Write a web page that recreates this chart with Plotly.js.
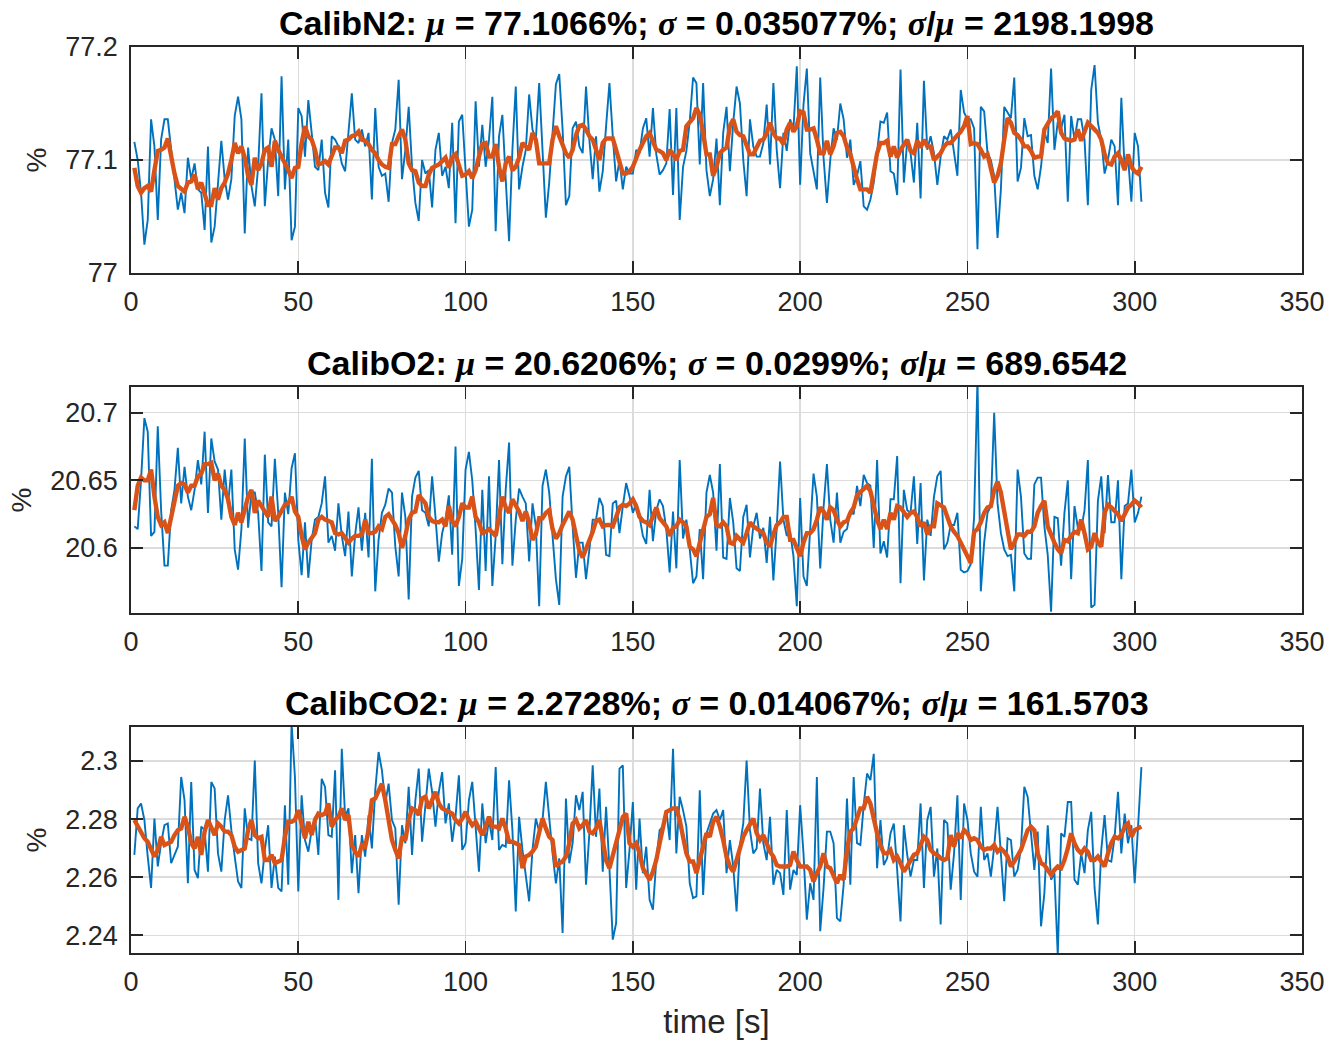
<!DOCTYPE html>
<html>
<head>
<meta charset="utf-8">
<script src="https://cdn.plot.ly/plotly-3.0.1.min.js"></script>
<style>
  html, body { margin: 0; padding: 0; background: #ffffff; }
  #chart { width: 1332px; height: 1041px; }
</style>
</head>
<body>
<div id="chart"></div>
<script>
// Gas calibration run: raw concentration readings (1 Hz) and their moving mean.
const gasNames = ['CalibN2', 'CalibO2', 'CalibCO2'];
const gasMean = ['77.1066', '20.6206', '2.2728'];
const gasStd = ['0.035077', '0.0299', '0.014067'];
const gasRatio = ['2198.1998', '689.6542', '161.5703'];

const n2Raw = [77.116,77.100,77.071,77.025,77.047,77.136,77.112,77.047,77.118,77.136,77.136,77.109,77.088,77.056,77.071,77.053,77.102,77.083,77.097,77.074,77.071,77.038,77.112,77.027,77.041,77.077,77.117,77.083,77.065,77.083,77.139,77.156,77.136,77.035,77.111,77.077,77.059,77.094,77.159,77.059,77.100,77.128,77.118,77.068,77.174,77.074,77.118,77.029,77.041,77.146,77.139,77.103,77.153,77.124,77.094,77.091,77.118,77.071,77.058,77.121,77.118,77.112,77.097,77.090,77.127,77.159,77.118,77.115,77.127,77.112,77.124,77.065,77.146,77.094,77.086,77.088,77.063,77.115,
  77.127,77.171,77.083,77.109,77.147,77.094,77.062,77.046,77.100,77.088,77.091,77.058,77.109,77.124,77.086,77.094,77.075,77.133,77.044,77.134,77.140,77.088,77.041,77.056,77.152,77.094,77.131,77.094,77.118,77.156,77.037,77.121,77.140,77.083,77.028,77.109,77.165,77.074,77.094,77.109,77.158,77.127,77.118,77.168,77.102,77.049,77.080,77.121,77.167,77.176,77.127,77.060,77.068,77.128,77.134,77.112,77.106,77.165,77.118,77.083,77.121,77.072,77.090,77.130,77.168,77.121,77.081,77.100,77.074,77.094,77.088,77.088,77.109,77.106,77.128,77.137,77.103,
  77.146,77.105,77.087,77.091,77.097,77.145,77.069,77.146,77.047,77.094,77.108,77.134,77.173,77.168,77.096,77.168,77.091,77.068,77.083,77.119,77.060,77.124,77.147,77.090,77.133,77.165,77.150,77.100,77.068,77.136,77.112,77.103,77.103,77.115,77.149,77.096,77.168,77.109,77.075,77.124,77.108,77.136,77.127,77.183,77.078,77.149,77.181,77.106,77.090,77.074,77.173,77.102,77.062,77.100,77.128,77.118,77.150,77.136,77.102,77.118,77.078,77.086,77.099,77.059,77.056,77.065,77.080,77.106,77.134,77.133,77.142,77.090,77.088,77.069,77.180,77.080,77.117,77.106,
  77.080,77.133,77.066,77.170,77.109,77.121,77.106,77.078,77.103,77.121,77.118,77.127,77.106,77.086,77.162,77.142,77.136,77.136,77.128,77.021,77.147,77.143,77.106,77.100,77.086,77.031,77.074,77.147,77.142,77.137,77.173,77.081,77.093,77.137,77.121,77.122,77.086,77.074,77.094,77.125,77.115,77.181,77.109,77.134,77.128,77.140,77.063,77.139,77.118,77.136,77.136,77.118,77.060,77.162,77.184,77.133,77.118,77.088,77.100,77.118,77.112,77.060,77.155,77.091,77.103,77.063,77.124,77.112,77.063];

const n2Smooth = [77.093,77.077,77.071,77.075,77.077,77.072,77.091,77.108,77.109,77.111,77.119,77.103,77.088,77.077,77.075,77.072,77.080,77.081,77.087,77.074,77.080,77.068,77.060,77.060,77.075,77.065,77.075,77.080,77.088,77.100,77.115,77.106,77.112,77.102,77.086,77.078,77.102,77.091,77.097,77.109,77.111,77.094,77.117,77.109,77.102,77.097,77.091,77.084,77.093,77.094,77.115,77.130,77.121,77.118,77.109,77.096,77.097,77.099,77.096,77.105,77.111,77.111,77.106,77.117,77.118,77.121,77.122,77.125,77.118,77.117,77.114,77.109,77.106,77.100,77.096,77.094,77.093,77.114,
  77.114,77.121,77.127,77.118,77.097,77.091,77.090,77.080,77.077,77.077,77.087,77.093,77.094,77.096,77.099,77.102,77.093,77.102,77.105,77.094,77.086,77.087,77.090,77.084,77.091,77.103,77.114,77.115,77.103,77.103,77.114,77.094,77.081,77.097,77.103,77.091,77.094,77.102,77.115,77.112,77.109,77.124,77.118,77.097,77.097,77.097,77.097,77.118,77.130,77.121,77.114,77.106,77.102,77.109,77.122,77.130,77.131,77.127,77.121,77.118,77.109,77.100,77.115,77.119,77.119,77.119,77.109,77.097,77.088,77.088,77.090,77.094,77.103,77.109,77.115,77.121,77.124,
  77.117,77.109,77.108,77.106,77.100,77.109,77.105,77.100,77.108,77.109,77.130,77.134,77.137,77.146,77.140,77.124,77.105,77.105,77.086,77.094,77.106,77.109,77.111,77.130,77.136,77.125,77.122,77.121,77.112,77.105,77.105,77.112,77.117,77.118,77.124,77.133,77.124,77.119,77.119,77.114,77.127,77.133,77.125,77.130,77.143,77.142,77.127,77.127,77.128,77.118,77.106,77.106,77.117,77.105,77.112,77.124,77.125,77.121,77.111,77.105,77.093,77.083,77.074,77.074,77.074,77.071,77.088,77.106,77.115,77.115,77.117,77.103,77.112,77.102,77.109,77.114,77.118,77.108,
  77.106,77.117,77.111,77.118,77.112,77.112,77.100,77.103,77.106,77.112,77.115,77.115,77.119,77.122,77.125,77.130,77.139,77.114,77.115,77.114,77.109,77.103,77.105,77.091,77.080,77.086,77.097,77.118,77.137,77.133,77.124,77.122,77.118,77.112,77.112,77.108,77.102,77.103,77.103,77.127,77.133,77.137,77.139,77.143,77.124,77.119,77.118,77.117,77.118,77.127,77.117,77.124,77.133,77.130,77.127,77.124,77.118,77.105,77.097,77.096,77.103,77.106,77.100,77.091,77.105,77.094,77.090,77.088,77.094];

const o2Raw = [20.616,20.614,20.650,20.696,20.686,20.609,20.612,20.690,20.628,20.587,20.587,20.628,20.643,20.674,20.633,20.660,20.638,20.628,20.643,20.665,20.647,20.686,20.626,20.681,20.664,20.658,20.621,20.658,20.632,20.658,20.599,20.584,20.614,20.681,20.615,20.641,20.641,20.626,20.583,20.669,20.619,20.616,20.666,20.626,20.571,20.641,20.625,20.659,20.670,20.606,20.580,20.619,20.578,20.606,20.621,20.623,20.633,20.653,20.604,20.609,20.598,20.633,20.609,20.594,20.627,20.579,20.610,20.630,20.598,20.626,20.593,20.666,20.568,20.606,20.626,20.632,20.644,20.641,
  20.601,20.579,20.641,20.623,20.562,20.638,20.652,20.657,20.628,20.626,20.616,20.653,20.623,20.590,20.611,20.621,20.639,20.595,20.675,20.572,20.592,20.658,20.671,20.650,20.614,20.569,20.643,20.583,20.653,20.572,20.609,20.665,20.588,20.643,20.678,20.587,20.621,20.644,20.638,20.633,20.590,20.633,20.616,20.557,20.646,20.658,20.641,20.606,20.577,20.558,20.638,20.653,20.660,20.616,20.578,20.604,20.604,20.577,20.601,20.621,20.621,20.637,20.631,20.595,20.594,20.633,20.635,20.611,20.631,20.648,20.638,20.626,20.633,20.623,20.609,20.603,20.643,
  20.605,20.628,20.636,20.631,20.614,20.582,20.627,20.585,20.665,20.607,20.621,20.599,20.574,20.579,20.614,20.577,20.641,20.654,20.641,20.598,20.662,20.593,20.592,20.637,20.619,20.585,20.583,20.623,20.632,20.593,20.616,20.626,20.607,20.615,20.589,20.623,20.576,20.615,20.664,20.621,20.609,20.612,20.594,20.557,20.637,20.579,20.572,20.614,20.655,20.638,20.585,20.630,20.662,20.621,20.604,20.641,20.604,20.612,20.614,20.627,20.625,20.646,20.631,20.654,20.648,20.646,20.600,20.665,20.596,20.605,20.593,20.636,20.636,20.668,20.574,20.643,20.628,20.626,
  20.653,20.603,20.648,20.576,20.621,20.609,20.638,20.653,20.657,20.599,20.604,20.617,20.617,20.626,20.584,20.582,20.583,20.588,20.623,20.725,20.568,20.604,20.626,20.631,20.700,20.633,20.611,20.599,20.594,20.595,20.568,20.658,20.638,20.596,20.592,20.592,20.647,20.652,20.652,20.616,20.595,20.553,20.623,20.622,20.587,20.626,20.650,20.577,20.631,20.615,20.614,20.628,20.665,20.556,20.558,20.635,20.653,20.611,20.654,20.619,20.619,20.650,20.577,20.631,20.633,20.658,20.619,20.626,20.638];

const o2Smooth = [20.628,20.646,20.652,20.650,20.650,20.658,20.638,20.623,20.617,20.619,20.611,20.623,20.633,20.646,20.648,20.647,20.641,20.646,20.646,20.653,20.655,20.662,20.662,20.663,20.650,20.655,20.646,20.643,20.636,20.623,20.617,20.626,20.619,20.628,20.638,20.643,20.626,20.635,20.631,20.626,20.623,20.638,20.620,20.623,20.627,20.632,20.633,20.638,20.627,20.623,20.609,20.599,20.604,20.607,20.611,20.621,20.623,20.621,20.620,20.619,20.611,20.610,20.611,20.607,20.604,20.607,20.609,20.609,20.610,20.621,20.611,20.611,20.612,20.616,20.614,20.623,20.625,20.621,
  20.617,20.611,20.600,20.609,20.621,20.626,20.627,20.639,20.636,20.633,20.623,20.620,20.619,20.619,20.621,20.616,20.631,20.620,20.616,20.623,20.633,20.630,20.630,20.638,20.623,20.619,20.611,20.612,20.614,20.612,20.609,20.623,20.638,20.630,20.626,20.636,20.632,20.627,20.620,20.627,20.619,20.606,20.610,20.622,20.622,20.626,20.628,20.614,20.607,20.611,20.617,20.623,20.627,20.621,20.611,20.598,20.593,20.599,20.604,20.612,20.620,20.621,20.616,20.617,20.617,20.616,20.623,20.630,20.632,20.631,20.633,20.636,20.631,20.623,20.620,20.619,20.617,
  20.623,20.630,20.622,20.619,20.616,20.609,20.615,20.616,20.621,20.619,20.616,20.601,20.599,20.594,20.604,20.616,20.623,20.625,20.637,20.617,20.616,20.619,20.616,20.604,20.603,20.609,20.606,20.604,20.611,20.619,20.616,20.614,20.612,20.611,20.604,20.601,20.610,20.617,20.619,20.623,20.623,20.606,20.606,20.600,20.594,20.604,20.611,20.611,20.614,20.621,20.630,20.627,20.621,20.630,20.628,20.621,20.616,20.619,20.620,20.626,20.630,20.639,20.641,20.644,20.646,20.642,20.630,20.621,20.614,20.621,20.614,20.626,20.621,20.631,20.630,20.626,20.623,20.626,
  20.627,20.623,20.616,20.619,20.610,20.616,20.616,20.633,20.631,20.630,20.623,20.616,20.612,20.609,20.604,20.599,20.594,20.589,20.612,20.614,20.619,20.626,20.630,20.631,20.643,20.649,20.641,20.626,20.609,20.599,20.604,20.610,20.610,20.609,20.612,20.612,20.616,20.626,20.631,20.635,20.616,20.609,20.604,20.599,20.596,20.606,20.605,20.609,20.612,20.611,20.621,20.611,20.599,20.601,20.611,20.604,20.601,20.626,20.632,20.630,20.628,20.625,20.620,20.625,20.630,20.632,20.635,20.633,20.630];

const co2Raw = [2.2677,2.2837,2.2854,2.2797,2.2671,2.2563,2.2802,2.2637,2.2717,2.2779,2.2785,2.2648,2.2677,2.2705,2.2945,2.2865,2.2579,2.2928,2.2625,2.2597,2.2774,2.2762,2.2619,2.2928,2.2905,2.2682,2.2619,2.2797,2.2882,2.2762,2.2671,2.2585,2.2563,2.2837,2.2734,2.2728,2.3002,2.2648,2.2579,2.2694,2.2779,2.2563,2.2671,2.2563,2.2551,2.2848,2.2574,2.3130,2.2945,2.2551,2.2882,2.2728,2.2688,2.2762,2.2808,2.2677,2.2939,2.2911,2.2745,2.2739,2.2968,2.2522,2.3042,2.2808,2.2837,2.2614,2.2745,2.2545,2.2745,2.2671,2.2814,2.2699,2.2899,2.3031,2.2968,2.2854,2.2922,2.2797,
  2.2768,2.2505,2.2779,2.2717,2.2911,2.2677,2.2865,2.2974,2.2722,2.2854,2.2974,2.2894,2.2774,2.2894,2.2962,2.2785,2.2854,2.2722,2.2808,2.2951,2.2694,2.2717,2.2865,2.2928,2.2785,2.2619,2.2854,2.2717,2.2797,2.2728,2.2979,2.2694,2.2711,2.2705,2.2934,2.2762,2.2482,2.2808,2.2694,2.2602,2.2517,2.2694,2.2802,2.2757,2.2797,2.2928,2.2797,2.2682,2.2579,2.2665,2.2408,2.2871,2.2648,2.2717,2.2882,2.2831,2.2894,2.2574,2.2751,2.2985,2.2739,2.2905,2.2619,2.2842,2.2631,2.2385,2.2442,2.2974,2.2985,2.2563,2.2694,2.2859,2.2557,2.2802,2.2614,2.2705,2.2522,
  2.2488,2.2659,2.2762,2.2774,2.2831,2.2728,2.3042,2.2682,2.2877,2.2831,2.2774,2.2579,2.2528,2.2534,2.2899,2.2539,2.2751,2.2785,2.2819,2.2831,2.2797,2.2831,2.2614,2.2728,2.2637,2.2482,2.2711,2.2785,2.3002,2.2762,2.2682,2.2699,2.2905,2.2717,2.2659,2.2808,2.2574,2.2625,2.2614,2.2539,2.2831,2.2557,2.2625,2.2608,2.2848,2.2682,2.2454,2.2579,2.2522,2.2945,2.2414,2.2563,2.2757,2.2757,2.2717,2.2459,2.2448,2.2574,2.2871,2.2574,2.2945,2.2717,2.2711,2.2848,2.2957,2.2934,2.3025,2.2631,2.2797,2.2642,2.2665,2.2751,2.2785,2.2625,2.2448,2.2779,2.2677,2.2602,
  2.2659,2.2659,2.2854,2.2563,2.2797,2.2842,2.2602,2.2699,2.2437,2.2797,2.2785,2.2557,2.2682,2.2882,2.2522,2.2854,2.2797,2.2682,2.2619,2.2602,2.2842,2.2659,2.2682,2.2602,2.2705,2.2842,2.2682,2.2517,2.2734,2.2728,2.2602,2.2625,2.2699,2.2911,2.2877,2.2762,2.2625,2.2757,2.2431,2.2545,2.2779,2.2591,2.2614,2.2330,2.2751,2.2739,2.2859,2.2859,2.2591,2.2574,2.2682,2.2614,2.2762,2.2825,2.2563,2.2437,2.2694,2.2814,2.2659,2.2654,2.2739,2.2894,2.2682,2.2819,2.2717,2.2779,2.2579,2.2774,2.2979];

const co2Smooth = [2.2797,2.2774,2.2751,2.2734,2.2722,2.2694,2.2671,2.2694,2.2739,2.2711,2.2717,2.2722,2.2745,2.2762,2.2768,2.2808,2.2774,2.2717,2.2699,2.2739,2.2677,2.2757,2.2797,2.2774,2.2745,2.2785,2.2774,2.2757,2.2757,2.2745,2.2705,2.2688,2.2694,2.2699,2.2762,2.2797,2.2745,2.2734,2.2739,2.2659,2.2659,2.2677,2.2648,2.2654,2.2659,2.2739,2.2791,2.2791,2.2797,2.2831,2.2774,2.2734,2.2791,2.2745,2.2797,2.2819,2.2814,2.2819,2.2854,2.2774,2.2797,2.2808,2.2837,2.2797,2.2814,2.2711,2.2688,2.2671,2.2711,2.2705,2.2762,2.2865,2.2871,2.2894,2.2922,2.2865,2.2797,2.2728,
  2.2694,2.2665,2.2739,2.2728,2.2797,2.2837,2.2831,2.2814,2.2871,2.2877,2.2837,2.2865,2.2894,2.2854,2.2837,2.2831,2.2825,2.2819,2.2797,2.2785,2.2802,2.2825,2.2797,2.2779,2.2791,2.2768,2.2745,2.2774,2.2808,2.2774,2.2774,2.2768,2.2802,2.2768,2.2722,2.2722,2.2717,2.2711,2.2631,2.2671,2.2677,2.2688,2.2705,2.2762,2.2802,2.2768,2.2739,2.2728,2.2637,2.2648,2.2654,2.2671,2.2717,2.2785,2.2797,2.2768,2.2779,2.2797,2.2757,2.2751,2.2768,2.2797,2.2728,2.2659,2.2631,2.2671,2.2717,2.2762,2.2808,2.2819,2.2717,2.2705,2.2717,2.2682,2.2631,2.2608,2.2591,
  2.2619,2.2659,2.2717,2.2774,2.2825,2.2831,2.2837,2.2837,2.2797,2.2739,2.2682,2.2654,2.2654,2.2614,2.2659,2.2705,2.2751,2.2739,2.2791,2.2808,2.2774,2.2728,2.2671,2.2637,2.2619,2.2659,2.2699,2.2739,2.2762,2.2785,2.2802,2.2751,2.2728,2.2745,2.2711,2.2688,2.2671,2.2642,2.2637,2.2637,2.2637,2.2642,2.2688,2.2659,2.2637,2.2637,2.2637,2.2625,2.2585,2.2614,2.2637,2.2682,2.2637,2.2631,2.2602,2.2579,2.2608,2.2591,2.2694,2.2757,2.2768,2.2808,2.2837,2.2837,2.2877,2.2854,2.2797,2.2751,2.2711,2.2682,2.2682,2.2694,2.2659,2.2671,2.2648,2.2619,2.2637,2.2659,
  2.2677,2.2682,2.2711,2.2739,2.2728,2.2694,2.2682,2.2677,2.2665,2.2659,2.2665,2.2745,2.2705,2.2751,2.2734,2.2762,2.2751,2.2728,2.2734,2.2728,2.2705,2.2694,2.2699,2.2699,2.2711,2.2688,2.2699,2.2688,2.2671,2.2637,2.2654,2.2671,2.2694,2.2728,2.2762,2.2774,2.2762,2.2682,2.2648,2.2642,2.2625,2.2608,2.2625,2.2637,2.2631,2.2659,2.2699,2.2751,2.2717,2.2694,2.2682,2.2699,2.2688,2.2659,2.2659,2.2671,2.2654,2.2637,2.2682,2.2717,2.2739,2.2734,2.2745,2.2774,2.2785,2.2739,2.2762,2.2768,2.2774];

const xTicks = [0, 50, 100, 150, 200, 250, 300, 350];
const yTicks = [[77, 77.1, 77.2], [20.6, 20.65, 20.7], [2.24, 2.26, 2.28, 2.3]];
const yRanges = [[77, 77.2], [20.552, 20.719], [2.2339, 2.3117]];

// Samples are logged once per second starting at t = 1 s.
const time = n2Raw.map((_, i) => i + 1);

const BLUE = '#0072BD';
const ORANGE = '#D95319';
const INK = '#262626';
const FONT = 'Liberation Sans, Arial, Helvetica, sans-serif';

const rawSeries = [n2Raw, o2Raw, co2Raw];
const smoothSeries = [n2Smooth, o2Smooth, co2Smooth];

const traces = [];
rawSeries.forEach((vals, k) => {
  const sfx = k === 0 ? '' : String(k + 1);
  traces.push({
    x: time, y: vals, type: 'scatter', mode: 'lines',
    line: { color: BLUE, width: 1.9 },
    xaxis: 'x' + sfx, yaxis: 'y' + sfx, hoverinfo: 'skip'
  });
  traces.push({
    x: time, y: smoothSeries[k], type: 'scatter', mode: 'lines',
    line: { color: ORANGE, width: 4.4 },
    xaxis: 'x' + sfx, yaxis: 'y' + sfx, hoverinfo: 'skip'
  });
});

// Panel vertical extents (paper fractions), top to bottom.
const domains = [[0.7506, 1.0], [0.3753, 0.6247], [0.0, 0.2494]];

function baseAxis() {
  return {
    showline: true, linecolor: INK, linewidth: 1.8, mirror: 'ticks',
    ticks: 'inside', ticklen: 12, tickwidth: 1.8, tickcolor: INK,
    showgrid: true, gridcolor: '#dcdcdc', gridwidth: 1.4, zeroline: false,
    tickfont: { family: FONT, size: 27, color: INK },
    fixedrange: true
  };
}

const layout = {
  width: 1332, height: 1041,
  margin: { l: 131, r: 30, t: 47, b: 88 },
  paper_bgcolor: '#ffffff', plot_bgcolor: '#ffffff',
  showlegend: false,
  font: { family: FONT, color: INK },
  annotations: []
};

domains.forEach((dom, k) => {
  const sfx = k === 0 ? '' : String(k + 1);
  const xa = Object.assign(baseAxis(), {
    domain: [0, 1], range: [0, 350], tickvals: xTicks,
    anchor: 'y' + sfx, ticklabelstandoff: 4
  });
  if (k === 2) {
    xa.title = { text: 'time [s]', font: { family: FONT, size: 33, color: INK }, standoff: 14 };
  }
  const ya = Object.assign(baseAxis(), {
    domain: dom, range: yRanges[k], tickvals: yTicks[k],
    ticktext: yTicks[k].map(String),
    anchor: 'x' + sfx, ticklabelstandoff: 6,
    title: { text: '%', font: { family: FONT, size: 28, color: INK }, standoff: 10 }
  });
  layout['xaxis' + sfx] = xa;
  layout['yaxis' + sfx] = ya;

  const g = '<span style="font-family:Liberation Serif, Times New Roman, serif"><i>';
  const ge = '</i></span>';
  layout.annotations.push({
    xref: 'paper', yref: 'paper', x: 0.5, y: dom[1],
    xanchor: 'center', yanchor: 'bottom', yshift: 3, showarrow: false,
    text: '<b>' + gasNames[k] + ': ' + g + 'μ' + ge + ' = ' + gasMean[k] + '%; ' +
          g + 'σ' + ge + ' = ' + gasStd[k] + '%; ' +
          g + 'σ' + ge + '/' + g + 'μ' + ge + ' = ' + gasRatio[k] + '</b>',
    font: { family: FONT, size: 34, color: '#000000' }
  });
});

Plotly.newPlot('chart', traces, layout, { staticPlot: true, displayModeBar: false });
</script>
</body>
</html>
